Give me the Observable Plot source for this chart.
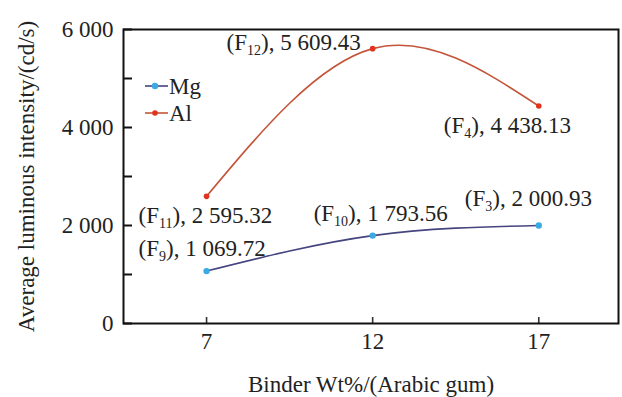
<!DOCTYPE html>
<html><head><meta charset="utf-8">
<script src="https://cdn.jsdelivr.net/npm/d3@7"></script>
<script src="https://cdn.jsdelivr.net/npm/@observablehq/plot@0.6"></script>
<style>
body{margin:0;background:#fff}
#chart{width:622px;height:397px;overflow:hidden}
</style>
</head><body><div id="chart"></div>
<script>
// ---- data ----
const binder = [7, 12, 17];
const mgValues = [1069.72, 1793.56, 2000.93];
const alValues = [2595.32, 5609.43, 4438.13];
const mgIds = ["9", "10", "3"];
const alIds = ["11", "12", "4"];
const seriesNames = ["Mg", "Al"];
const yTicks = [0, 2000, 4000, 6000];
const yAllTicks = [0, 1000, 2000, 3000, 4000, 5000, 6000];
const xTicks = [7, 12, 17];

const mgLine = "#45457f", mgDot = "#3aa9e4";
const alLine = "#c4553a", alDot = "#e1321e";

const mg = binder.map((x, i) => ({x, y: mgValues[i], id: mgIds[i], s: seriesNames[0]}));
const al = binder.map((x, i) => ({x, y: alValues[i], id: alIds[i], s: seriesNames[1]}));

const loc = d3.formatLocale({decimal: ".", thousands: " ", grouping: [3], currency: ["", ""]});
const fmtVal = loc.format(",.2f");
const fmtTick = loc.format(",d");
const lbl = d => `(F${d.id}), ${fmtVal(d.y)}`;
const pick = (arr, id) => arr.filter(d => d.id === id);

const FS = 23;
const plot = Plot.plot({
  width: 622, height: 397,
  marginLeft: 123, marginRight: 4, marginTop: 29, marginBottom: 74,
  style: {fontFamily: "'Liberation Serif', 'Times New Roman', serif", fontSize: FS + "px", color: "#222", background: "#fff"},
  x: {domain: [4.5, 19.4]},
  y: {domain: [0, 6000]},
  marks: [
    // tick labels and axis titles
    Plot.axisX({ticks: xTicks, tickSize: 0, tickPadding: 9, tickFormat: d => d, label: "Binder Wt%/(Arabic gum)", labelArrow: "none", labelAnchor: "center", labelOffset: 68}),
    Plot.axisY({ticks: yTicks, tickSize: 0, tickPadding: 10, tickFormat: d => fmtTick(d), label: "Average luminous intensity/(cd/s)", labelArrow: "none", labelAnchor: "center", labelOffset: 106}),
    // inward tick marks
    Plot.axisX({ticks: xTicks, tickSize: 6, dy: -6, tickFormat: () => "", label: null, stroke: "#333", strokeWidth: 1.6}),
    Plot.axisY({ticks: yAllTicks, tickSize: 9, dx: 9, tickFormat: () => "", label: null, stroke: "#111", strokeWidth: 2}),
    Plot.frame({stroke: "#111", strokeWidth: 2}),
    Plot.line(mg, {x: "x", y: "y", curve: "natural", stroke: mgLine, strokeWidth: 1.6}),
    Plot.line(al, {x: "x", y: "y", curve: "natural", stroke: alLine, strokeWidth: 1.6}),
    Plot.dot(mg, {x: "x", y: "y", r: 3.2, fill: mgDot}),
    Plot.dot(al, {x: "x", y: "y", r: 2.8, fill: alDot}),
    Plot.text(pick(al, "12"), {x: "x", y: "y", text: lbl, textAnchor: "end", dx: -12, dy: -6, fill: "#222"}),
    Plot.text(pick(al, "4"), {x: "x", y: "y", text: lbl, textAnchor: "start", dx: -95, dy: 20, fill: "#222"}),
    Plot.text(pick(al, "11"), {x: "x", y: "y", text: lbl, textAnchor: "start", dx: -68, dy: 19, fill: "#222"}),
    Plot.text(pick(mg, "9"), {x: "x", y: "y", text: lbl, textAnchor: "start", dx: -68, dy: -22, fill: "#222"}),
    Plot.text(pick(mg, "10"), {x: "x", y: "y", text: lbl, textAnchor: "start", dx: -59, dy: -22, fill: "#222"}),
    Plot.text(pick(mg, "3"), {x: "x", y: "y", text: lbl, textAnchor: "start", dx: -74, dy: -27, fill: "#222"})
  ]
});
document.getElementById("chart").appendChild(plot);

// subscripts in the (Fn) labels
const svg = d3.select(plot);
svg.selectAll("text").each(function() {
  const t = this.textContent;
  const m = /^\(F(\d+)\), (.+)$/.exec(t);
  if (!m || this.querySelector("tspan")) return;
  const sel = d3.select(this);
  sel.text(null);
  sel.append("tspan").text("(F");
  sel.append("tspan").attr("font-size", Math.round(FS * 0.62) + "px").attr("dy", 5).text(m[1]);
  sel.append("tspan").attr("dy", -5).text("), " + m[2]);
});

// legend
const leg = svg.append("g").attr("font-family", "'Liberation Serif', serif").attr("font-size", FS + "px").attr("fill", "#222").attr("text-anchor", "start");
[[seriesNames[0], mgLine, mgDot], [seriesNames[1], alLine, alDot]].forEach(([name, lc, dc], i) => {
  const y = 86 + i * 27;
  leg.append("line").attr("x1", 145).attr("x2", 168).attr("y1", y).attr("y2", y).attr("stroke", lc).attr("stroke-width", 1.6);
  leg.append("circle").attr("cx", 155).attr("cy", y).attr("r", i === 0 ? 3.2 : 2.8).attr("fill", dc);
  leg.append("text").attr("x", 169).attr("y", y).attr("dy", "0.34em").attr("text-anchor", "start").text(name);
});
</script>
</body></html>
